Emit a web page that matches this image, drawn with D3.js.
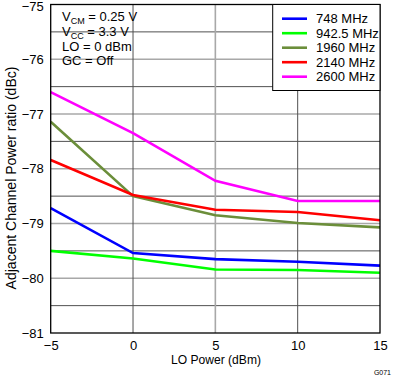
<!DOCTYPE html>
<html><head><meta charset="utf-8">
<script src="https://cdn.jsdelivr.net/npm/d3@7"></script>
<style>body{margin:0;background:#fff}svg{display:block;font-family:"Liberation Sans",Arial,sans-serif}</style>
</head><body><svg id="c" width="395" height="377"></svg>
<script>
const loPower = [-5, 0, 5, 10, 15];
const seriesNames = ["748 MHz", "942.5 MHz", "1960 MHz", "2140 MHz", "2600 MHz"];
const seriesColors = ["#0000ff", "#00ff00", "#6b8e3a", "#ff0000", "#ff00ff"];
const s748 = [-78.72, -79.54, -79.65, -79.70, -79.77];
const s942 = [-79.50, -79.64, -79.84, -79.85, -79.90];
const s1960 = [-77.14, -78.50, -78.85, -78.99, -79.07];
const s2140 = [-77.84, -78.48, -78.75, -78.79, -78.94];
const s2600 = [-76.60, -77.35, -78.22, -78.59, -78.59];
const xTicks = [-5, 0, 5, 10, 15];
const yTicks = [-81, -80, -79, -78, -77, -76, -75];
const allSeries = [s748, s942, s1960, s2140, s2600];

const svg = d3.select("#c");
const L = 50.7, R = 380, T = 4.5, B = 333;
const x = d3.scaleLinear().domain([-5, 15]).range([L, R]);
const y = d3.scaleLinear().domain([-81, -75]).range([B, T]);
const fmt = d => d < 0 ? "\u2212" + Math.abs(d) : String(d);
const FS = 13;

function fit(sel, target) {
  const len = sel.node().getComputedTextLength();
  const fs = parseFloat(sel.attr("font-size"));
  sel.attr("font-size", (fs * target / len).toFixed(2));
}

// grid
const g = svg.append("g");
d3.range(-80.5, -75, 0.5).forEach(v => {
  const major = Number.isInteger(v);
  g.append("line").attr("x1", L).attr("x2", R).attr("y1", y(v)).attr("y2", y(v))
    .attr("stroke", major ? "#a8a8a8" : "#505050").attr("stroke-width", major ? 1.6 : 1);
});
[0, 5, 10].forEach(v => {
  const light = v === 5;
  g.append("line").attr("y1", T).attr("y2", B).attr("x1", x(v)).attr("x2", x(v))
    .attr("stroke", light ? "#a8a8a8" : "#505050").attr("stroke-width", light ? 1.6 : 1);
});

// axes
const xa = svg.append("g").attr("transform", `translate(0,${B})`)
  .call(d3.axisBottom(x).tickValues(xTicks).tickFormat(fmt).tickSize(0).tickPadding(0));
xa.select(".domain").remove();
xa.selectAll("text").attr("dy", null).attr("y", 17).attr("font-size", FS).attr("fill", "#000").attr("font-family", "Liberation Sans, Arial, sans-serif");
const ya = svg.append("g").attr("transform", `translate(${L},0)`)
  .call(d3.axisLeft(y).tickValues(yTicks).tickFormat(fmt).tickSize(0).tickPadding(7));
ya.select(".domain").remove();
ya.selectAll("text").attr("font-size", FS).attr("fill", "#000").attr("font-family", "Liberation Sans, Arial, sans-serif");
ya.selectAll(".tick").filter(d => d === -75).select("text").attr("dy", "0.45em");

// lines
const line = d3.line().x((d, i) => x(loPower[i])).y(d => y(d));
allSeries.forEach((s, i) => {
  svg.append("path").datum(s).attr("d", line).attr("fill", "none")
    .attr("stroke", seriesColors[i]).attr("stroke-width", 2.6);
});

// frame
svg.append("rect").attr("x", L).attr("y", T).attr("width", R - L).attr("height", B - T)
  .attr("fill", "none").attr("stroke", "#000").attr("stroke-width", 1.3);

// legend
const lx = 272.7, ly = T, lw = R - lx, lh = 86;
svg.append("rect").attr("x", lx).attr("y", ly).attr("width", lw).attr("height", lh)
  .attr("fill", "#fff").attr("stroke", "#000").attr("stroke-width", 1);
seriesNames.forEach((n, i) => {
  const yy = 18.7 + i * 14.5;
  svg.append("line").attr("x1", 282).attr("x2", 307).attr("y1", yy).attr("y2", yy)
    .attr("stroke", seriesColors[i]).attr("stroke-width", 2.6);
  svg.append("text").attr("x", 316).attr("y", yy + 4.5).attr("font-size", FS).text(n);
});

// annotation
const ann = svg.append("g").attr("font-size", FS);
const t1 = ann.append("text").attr("x", 62).attr("y", 21);
t1.append("tspan").text("V");
t1.append("tspan").attr("font-size", 9).attr("dy", 2.5).text("CM");
t1.append("tspan").attr("dy", -2.5).text(" = 0.25 V");
const t2 = ann.append("text").attr("x", 62).attr("y", 36);
t2.append("tspan").text("V");
t2.append("tspan").attr("font-size", 9).attr("dy", 2.5).text("CC");
t2.append("tspan").attr("dy", -2.5).text(" = 3.3 V");
ann.append("text").attr("x", 62).attr("y", 50.5).text("LO = 0 dBm");
ann.append("text").attr("x", 62).attr("y", 65).text("GC = Off");

// axis titles
const xt = svg.append("text").attr("x", 216).attr("y", 364).attr("text-anchor", "middle")
  .attr("font-size", FS).text("LO Power (dBm)");
fit(xt, 90);
const yt = svg.append("text").attr("transform", `translate(15.5,178) rotate(-90)`)
  .attr("text-anchor", "middle").attr("font-size", FS).text("Adjacent Channel Power ratio (dBc)");
fit(yt, 223);
svg.append("text").attr("x", 391).attr("y", 375).attr("text-anchor", "end")
  .attr("font-size", 7).text("G071");
</script></body></html>
